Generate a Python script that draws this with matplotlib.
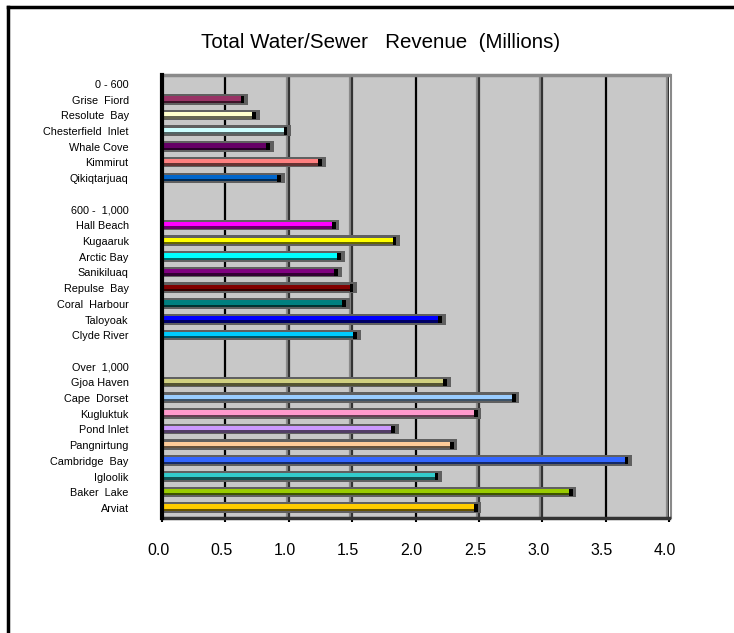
import matplotlib
matplotlib.use("Agg")
import matplotlib.pyplot as plt
import matplotlib.colors as mcolors
import matplotlib.transforms as mtransforms
import numpy as np

plt.rcParams['font.family'] = ['Liberation Sans', 'DejaVu Sans']

title = "Total Water/Sewer   Revenue  (Millions)"

labels = ["0 - 600", "Grise  Fiord", "Resolute  Bay", "Chesterfield  Inlet", "Whale Cove",
          "Kimmirut", "Qikiqtarjuaq", "",
          "600 -  1,000", "Hall Beach", "Kugaaruk", "Arctic Bay", "Sanikiluaq", "Repulse  Bay",
          "Coral  Harbour", "Taloyoak", "Clyde River", "",
          "Over  1,000", "Gjoa Haven", "Cape  Dorset", "Kugluktuk", "Pond Inlet", "Pangnirtung",
          "Cambridge  Bay", "Igloolik", "Baker  Lake", "Arviat"]

values = [None, 0.65, 0.74, 0.99, 0.85, 1.26, 0.94, None,
          None, 1.37, 1.85, 1.41, 1.39, 1.51, 1.45, 2.21, 1.54, None,
          None, 2.25, 2.79, 2.49, 1.84, 2.30, 3.68, 2.18, 3.24, 2.49]

colors = [None, "#993366", "#FFFFCC", "#CCFFFF", "#660066", "#FF8080", "#0066CC", None,
          None, "#FF00FF", "#FFFF00", "#00FFFF", "#800080", "#800000", "#008080", "#0000FF", "#00CCFF", None,
          None, "#D0D080", "#99CCFF", "#FF99CC", "#CC99FF", "#FFCC99", "#3366FF", "#33CCCC", "#99CC00", "#FFCC00"]

xticks = [0.0, 0.5, 1.0, 1.5, 2.0, 2.5, 3.0, 3.5, 4.0]
xticklabels = ["0.0", "0.5", "1.0", "1.5", "2.0", "2.5", "3.0", "3.5", "4.0"]

W, H = 734, 633
fig = plt.figure(figsize=(W / 100, H / 100), dpi=100)
fig.patch.set_facecolor("white")

left_px, right_px, top_px, bot_px = 162, 669, 75, 518
ax = fig.add_axes([left_px / W, 1 - bot_px / H, (right_px - left_px) / W, (bot_px - top_px) / H])
ax.set_facecolor("#C8C8C8")
for s in ax.spines.values():
    s.set_visible(False)

n = len(labels)
ypos = np.arange(n)
ax.set_ylim(n - 1 + 0.64, -0.57)
ax.set_xlim(0, 4)

# gridlines
for x in xticks[1:]:
    if x in (0.5, 2.0, 3.5):
        ax.axvline(x, color="black", lw=1.6, zorder=1)
    else:
        ax.axvline(x - 0.014, color="#8a8a8a", lw=1.6, zorder=1)
        ax.axvline(x, color="#333333", lw=1.6, zorder=1)

# plot area edges
ax.axhline(-0.57, color="#8a8a8a", lw=2.5, zorder=1, clip_on=False)
ax.axhline(n - 1 + 0.64, color="#333333", lw=2.5, zorder=5, clip_on=False)
ax.axvline(4.0 + 0.012, color="#8a8a8a", lw=1.5, zorder=1, clip_on=False)
ax.axvline(0, color="black", lw=3, zorder=6, clip_on=False)

def darken(c, f=0.4):
    r, g, b = mcolors.to_rgb(c)
    return (r * f, g * f, b * f)

for y, v, c in zip(ypos, values, colors):
    if v is None:
        continue
    ax.barh(y - 0.02, v + 0.03, height=0.68, color="#606060", zorder=2)
    ax.barh(y - 0.08, v, height=0.28, color=c, zorder=3)
    ax.barh(y + 0.13, v, height=0.15, color=darken(c), zorder=3)
    ax.barh(y, 0.03, left=v - 0.03, height=0.46, color="black", zorder=4)

ax.set_yticks(ypos)
ax.set_yticklabels(labels, fontsize=7.8)
ax.tick_params(axis="y", length=0, pad=24)
ax.set_xticks(xticks)
ax.set_xticklabels(xticklabels, fontsize=11.5)
ax.tick_params(axis="x", length=3, width=1.5, color="black", pad=15)
shift = mtransforms.ScaledTranslation(-4 / 100, 0, fig.dpi_scale_trans)
for lab in ax.get_xticklabels():
    lab.set_transform(lab.get_transform() + shift)

fig.text(381 / W, 1 - 43 / H, title, ha="center", va="center", fontsize=14.8)

# outer frame (top and left)
fig.add_artist(plt.Line2D([8 / W, 1.0], [1 - 7 / H, 1 - 7 / H], color="black", lw=2.5,
                          transform=fig.transFigure))
fig.add_artist(plt.Line2D([8 / W, 8 / W], [1 - 7 / H, 0], color="black", lw=2.5,
                          transform=fig.transFigure))

fig.savefig("out.png", dpi=100)
